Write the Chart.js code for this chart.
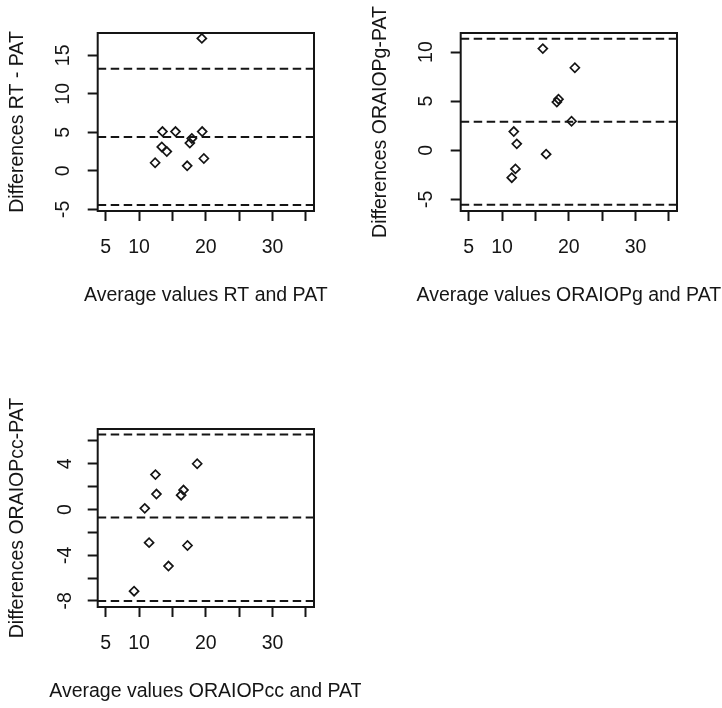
<!DOCTYPE html>
<html>
<head>
<meta charset="utf-8">
<script src="https://cdn.jsdelivr.net/npm/chart.js@4.4.1/dist/chart.umd.min.js"></script>
<style>
  html, body { margin: 0; padding: 0; background: #fff; overflow: hidden; width: 722px; height: 708px; }
  canvas { position: absolute; }
</style>
</head>
<body>
<canvas id="rt" width="361" height="354" style="left:0;top:0"></canvas>
<canvas id="og" width="359" height="354" style="left:363px;top:0"></canvas>
<canvas id="occ" width="361" height="312" style="left:0;top:396px"></canvas>
<script>
// Bland-Altman plots: tonometers against PAT

// shared x axis
const xMin = 3.8, xMax = 36.2;
const xTicks = [5, 10, 15, 20, 25, 30, 35];
const xTickLabels = [5, 10, 20, 30];

// RT vs PAT
const rtAvg  = [19.4, 13.5, 15.45, 19.45, 17.9, 17.6, 13.4, 14.15, 12.4, 17.2, 19.7];
const rtDiff = [17.2, 5.1, 5.1, 5.1, 4.2, 3.6, 3.1, 2.5, 1.05, 0.65, 1.6];
const rtLines = [13.25, 4.4, -4.45];
const rtTicks = [-5, 0, 5, 10, 15];

// ORA IOPg vs PAT
const ogAvg  = [16.1, 20.9, 18.45, 18.2, 20.4, 11.75, 12.2, 16.6, 12.0, 11.45];
const ogDiff = [10.35, 8.4, 5.2, 4.9, 2.95, 1.9, 0.65, -0.4, -1.9, -2.8];
const ogLines = [11.35, 2.9, -5.55];
const ogTicks = [-5, 0, 5, 10];

// ORA IOPcc vs PAT
const occAvg  = [18.7, 12.45, 12.6, 16.65, 16.3, 10.85, 11.5, 17.25, 14.4, 9.25];
const occDiff = [4.0, 3.05, 1.35, 1.7, 1.25, 0.1, -2.9, -3.15, -4.95, -7.15];
const occLines = [6.55, -0.7, -8.0];
const occTicks = [-8, -6, -4, -2, 0, 2, 4, 6];
const occTickLabels = [-8, -4, 0, 4];

const ink = '#151515';
const font = { family: 'Arial, "Liberation Sans", sans-serif', size: 19.5 };

// frame around the plot region + x axis title (R centres it under the box and lets it run wider)
const framePlugin = {
  id: 'frame',
  afterDraw(chart, args, opts) {
    const { ctx, chartArea: a } = chart;
    ctx.save();
    ctx.strokeStyle = ink;
    ctx.lineWidth = 2;
    ctx.strokeRect(a.left, a.top, a.right - a.left, a.bottom - a.top);
    ctx.fillStyle = ink;
    ctx.font = font.size + 'px ' + font.family;
    ctx.textAlign = 'center';
    ctx.textBaseline = 'middle';
    ctx.fillText(opts.xTitle, (a.left + a.right) / 2, 296);
    ctx.restore();
  }
};

function panel(id, avg, diff, lines, yMin, yMax, yTicks, yLabels, xTitle, yTitle) {
  const canvas = document.getElementById(id);
  const H = canvas.height;
  const boxBottom = 211;

  const datasets = [{
    data: avg.map((x, i) => ({ x: x, y: diff[i] })),
    pointStyle: 'rectRot',
    pointRadius: 4.5,
    pointBorderWidth: 1.7,
    borderColor: ink,
    backgroundColor: 'rgba(0,0,0,0)'
  }];
  lines.forEach(v => {
    datasets.push({
      data: [{ x: xMin, y: v }, { x: xMax, y: v }],
      showLine: true,
      borderDash: [8.5, 4.5],
      borderWidth: 2,
      borderColor: ink,
      pointRadius: 0
    });
  });

  new Chart(canvas, {
    type: 'scatter',
    data: { datasets: datasets },
    options: {
      responsive: false,
      animation: false,
      events: [],
      layout: { padding: { left: 0, top: 33, right: canvas.width - 314, bottom: 0 } },
      plugins: {
        legend: { display: false },
        tooltip: { enabled: false },
        frame: { xTitle: xTitle }
      },
      scales: {
        x: {
          type: 'linear', min: xMin, max: xMax,
          afterBuildTicks: s => { s.ticks = xTicks.map(value => ({ value })); },
          afterFit: s => { s.height = H - boxBottom; },
          ticks: {
            autoSkip: false, maxRotation: 0, padding: 15, font: font, color: ink,
            callback: v => xTickLabels.includes(v) ? String(v) : ''
          },
          grid: { drawOnChartArea: false, tickLength: 10, tickWidth: 2, tickColor: ink },
          border: { display: false }
        },
        y: {
          type: 'linear', min: yMin, max: yMax,
          afterBuildTicks: s => { s.ticks = yTicks.map(value => ({ value })); },
          afterFit: s => { s.width = 97.7; },
          ticks: {
            autoSkip: false, minRotation: 90, maxRotation: 90, crossAlign: 'center',
            padding: 13, font: font, color: ink,
            callback: v => yLabels.includes(v) ? String(v) : ''
          },
          grid: { drawOnChartArea: false, tickLength: 10, tickWidth: 2, tickColor: ink },
          border: { display: false },
          title: { display: true, text: yTitle, font: font, color: ink,
                   padding: { top: 6, bottom: 0 } }
        }
      }
    },
    plugins: [framePlugin]
  });
}

panel('rt', rtAvg, rtDiff, rtLines, -5.22, 17.9, rtTicks, rtTicks,
      'Average values RT and PAT', 'Differences RT - PAT');
panel('og', ogAvg, ogDiff, ogLines, -6.19, 11.94, ogTicks, ogTicks,
      'Average values ORAIOPg and PAT', 'Differences ORAIOPg-PAT');
panel('occ', occAvg, occDiff, occLines, -8.53, 7.04, occTicks, occTickLabels,
      'Average values ORAIOPcc and PAT', 'Differences ORAIOPcc-PAT');
</script>
</body>
</html>
